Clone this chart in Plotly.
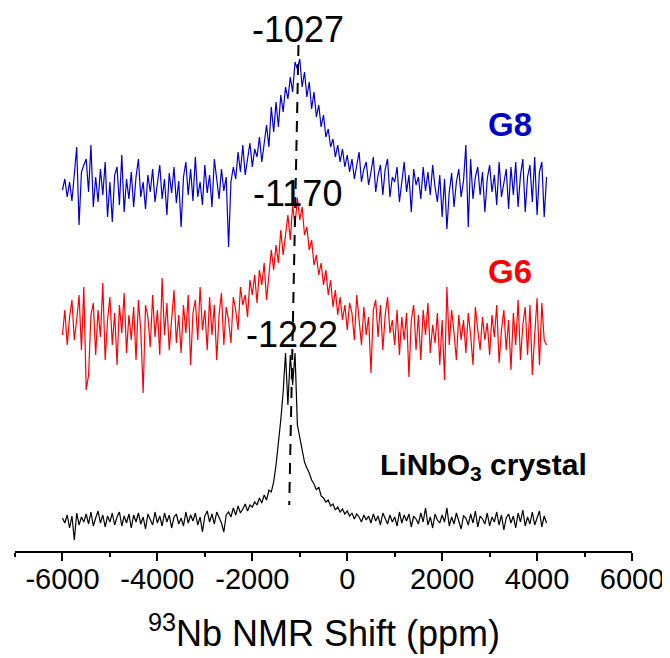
import numpy as np
import plotly.graph_objects as go

# chemical shift grid (ppm) for the sampled spectra
ppm_start, ppm_end = -6000, 4200

# G8 intensity relative to its own baseline (a.u.)
g8 = [
    -3, 8, -10, 5, -14, 12, 40, -38, 15, 22,
    28, -5, 42, -20, 10, -15, 18, -8, 25, -30,
    5, -35, 12, 20, -18, 32, -25, 8, -12, 15,
    -20, 10, 28, -10, 5, -22, 12, -5, 18, -15,
    3, 22, -12, 8, -28, 14, -6, 20, -16, 6,
    -40, 10, 25, -8, 18, -14, 30, -10, 5, -18,
    22, -6, 12, -20, 28, 8, -12, 18, -4, 10,
    -60, 5, 20, 8, 35, 15, 42, 12, 28, 44,
    20, 38, 30, 50, 25, 45, 62, 40, 80, 55,
    85, 60, 92, 75, 100, 88, 110, 95, 125, 118,
    128, 100, 115, 90, 105, 78, 95, 70, 82, 60,
    72, 50, 58, 40, 48, 30, 42, 25, 38, 20,
    32, 15, 28, 8, 22, 35, 5, 18, 25, 2,
    15, 30, -5, 12, 22, -8, 18, 28, -10, 10,
    5, 20, -15, 8, 25, -5, 12, -25, 18, 2,
    10, -12, 20, -4, 15, -8, 22, 0, -15, 12,
    -30, 8, -42, -5, 14, -20, 5, 18, -10, 6,
    42, -40, 28, -12, 10, 20, -8, 15, -25, 8,
    22, -5, 12, -18, 25, -10, 5, 18, -22, 20,
    -8, 25, -20, 12, 28, -25, 10, 22, -15, 30,
    -28, 15, 25, -30, 10,
]

# G6 intensity relative to its own baseline
g6 = [
    -10, 15, -20, 8, 25, -15, 5, 30, -25, 38,
    -65, -50, 10, 22, -30, 15, -12, 42, -35, 5,
    28, -20, 12, -40, 20, -8, 32, -28, 10, -15,
    18, -35, 25, -5, -68, 20, 8, -22, 30, -12,
    15, -30, 47, -10, 22, -25, 5, 35, -18, 10,
    -28, 20, -8, 30, -40, 12, 25, -15, 38, -5,
    15, -25, 28, -10, 20, -35, 10, 32, -20, 18,
    5, -18, 28, 15, -5, 38, 20, 30, 8, 45,
    30, 50, 22, 55, 40, 62, 25, 48, 75, 55,
    80, 62, 95, 70, 88, 110, 85, 120, 100, 127,
    105, 118, 90, 98, 75, 85, 60, 70, 50, 62,
    40, 55, 30, 45, 18, 35, 10, 28, 5, 20,
    -5, 22, 12, -15, 30, 5, -20, 18, -10, 8,
    -48, 15, 25, -12, 20, -25, 10, 28, -8, 5,
    -20, 15, -30, 8, -15, 12, -52, 5, 20, -25,
    10, -35, 15, -10, 22, -28, 0, -18, 12, -40,
    5, -55, 38, -20, 15, -8, -35, 10, -15, 5,
    -28, 12, -10, -40, 18, -5, -25, 8, -15, 2,
    -30, 10, -12, 20, -38, -5, 15, -25, 5, -45,
    12, -20, 25, -35, 0, 18, -30, 20, -50, -10,
    27, -40, 22, -15, -20,
]

# LiNbO3 crystal intensity relative to its own baseline
linbo3 = [
    2, -3, 5, -8, 4, -20, 7, -5, 3, -2,
    6, -4, 8, -6, 2, 9, -3, 5, -7, 4,
    -2, 7, -5, 3, 8, -6, 4, -3, 6, -8,
    5, -2, 7, -4, 3, -9, 6, 1, -5, 8,
    -3, 4, -6, 7, -2, 5, -8, 3, 6, -4,
    2, -6, 8, -3, 5, -1, 7, -5, 3, -12,
    4, 9, -2, 6, -4, 8, 2, -3, -12, 5,
    8, 3, 12, 5, 14, 7, 11, 16, 9, 15,
    13, 18, 15, 22, 17, 25, 20, 30, 28, 38,
    55, 75, 100, 128, 167, 115, 165, 135, 167, 95,
    82, 70, 58, 52, 47, 40, 36, 30, 33, 24,
    22, 18, 20, 14, 16, 10, 13, 8, 11, 6,
    9, 4, 7, 1, 6, 3, -2, 5, 0, 4,
    -3, 6, -1, 4, -5, 7, 2, -4, 5, -2,
    3, -6, 8, -3, 5, -1, 6, -7, 4, 1,
    -4, 7, -2, 12, -5, 3, -8, 6, 0, -3,
    5, -2, 12, -6, 3, -4, 7, -1, -9, 4,
    2, -5, 6, -3, 9, -7, 4, 1, -4, 7,
    -6, 3, -2, 8, -5, 5, -10, 2, 6, -3,
    4, -8, 7, -2, 10, -6, 3, -4, 8, -5,
    2, 9, -7, 4, -3,
]

# vertical stacking offsets of the three spectra
offsets = {"G8": 364, "G6": 226, "LiNbO3": 31}

# peak positions (ppm) and labels
peak_ppm = [-1027, -1170, -1222]
peak_labels = ["-1027", "-1170", "-1222"]

tick_vals = [-6000, -4000, -2000, 0, 2000, 4000, 6000]

FONT = "Liberation Sans, Arial, sans-serif"

fig = go.Figure()

series = [
    (linbo3, offsets["LiNbO3"], "#000000"),
    (g6, offsets["G6"], "#FF0000"),
    (g8, offsets["G8"], "#0000CD"),
]
for vals, off, col in series:
    x = np.linspace(ppm_start, ppm_end, len(vals))
    fig.add_trace(go.Scatter(
        x=x, y=np.array(vals) + off, mode="lines",
        line=dict(color=col, width=1.2), showlegend=False, hoverinfo="skip"))

# dashed guide line through the peak maxima
fig.add_trace(go.Scatter(
    x=[peak_ppm[0], peak_ppm[2]], y=[506, 46], mode="lines",
    line=dict(color="black", width=2, dash="11px,8px"),
    showlegend=False, hoverinfo="skip"))

label_pos = [(-1038, 522), (-1038, 358), (-1164, 217)]
for (lx, ly), txt in zip(label_pos, peak_labels):
    fig.add_annotation(x=lx, y=ly, text=txt, showarrow=False,
                       xanchor="center", yanchor="middle",
                       font=dict(family=FONT, size=36, color="black"))

fig.add_annotation(x=3425, y=427, text="<b>G8</b>", showarrow=False,
                   xanchor="center", yanchor="middle",
                   font=dict(family=FONT, size=33, color="#0000CD"))
fig.add_annotation(x=3425, y=280, text="<b>G6</b>", showarrow=False,
                   xanchor="center", yanchor="middle",
                   font=dict(family=FONT, size=33, color="#FF0000"))
fig.add_annotation(x=646, y=85, text="<b>LiNbO<sub>3</sub> crystal</b>", showarrow=False,
                   xanchor="left", yanchor="middle",
                   font=dict(family=FONT, size=30, color="black"))

fig.add_annotation(xref="paper", yref="paper", x=0.5, y=-0.148,
                   text="<sup>93</sup>Nb NMR Shift (ppm)", showarrow=False,
                   xanchor="center", yanchor="middle",
                   font=dict(family=FONT, size=36, color="black"))

fig.update_xaxes(
    range=[-7000, 6000], tickvals=tick_vals,
    ticktext=[str(v) for v in tick_vals],
    ticks="outside", ticklen=8, tickwidth=1.5, tickcolor="black",
    minor=dict(dtick=1000, tick0=-7000, ticks="outside", ticklen=4,
               tickwidth=1.5, tickcolor="black"),
    showline=True, linecolor="black", linewidth=1.5,
    showgrid=False, zeroline=False, ticklabelstandoff=-7,
    tickfont=dict(family=FONT, size=29, color="black"))
fig.update_yaxes(range=[0, 541], visible=False, showgrid=False, zeroline=False)

# the page body adds an 8px margin, so the figure is sized and placed to compensate
fig.update_layout(
    width=662, height=650,
    margin=dict(l=7, r=38, t=2, b=107),
    paper_bgcolor="white", plot_bgcolor="white",
)

fig.write_html("out.html")
